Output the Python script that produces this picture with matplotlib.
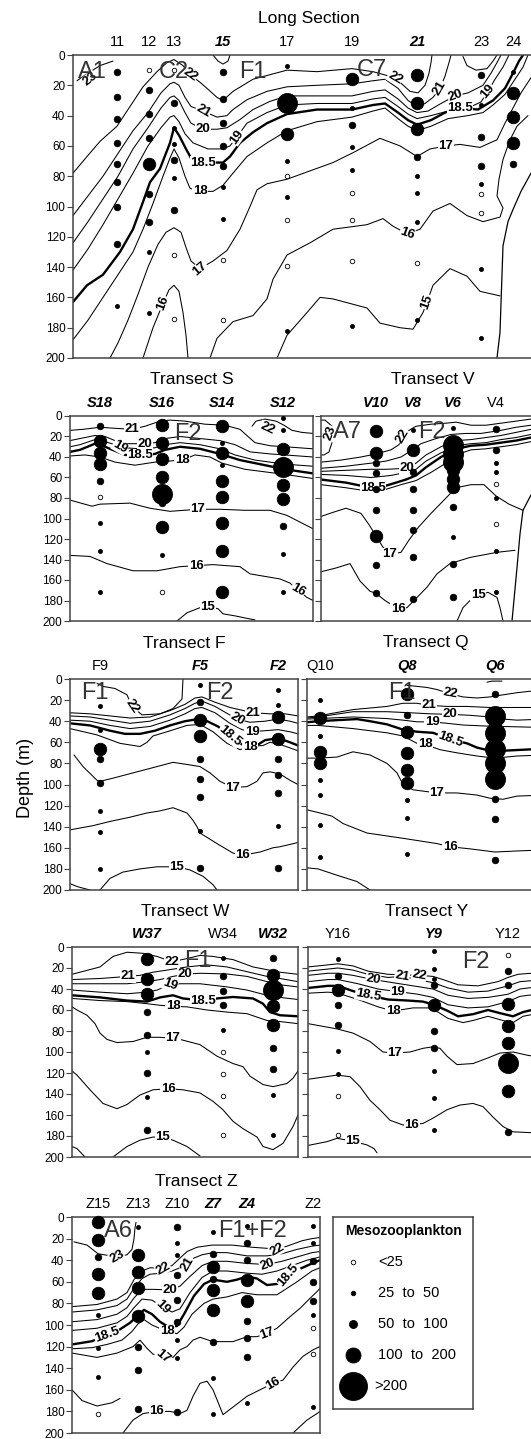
import matplotlib
matplotlib.use("Agg")
from matplotlib import pyplot as plt

plt.rcParams['font.family'] = ['Liberation Sans', 'DejaVu Sans']

W, H = 531, 1439

# size classes: 0 <25, 1 25-50, 2 50-100, 3 100-200, 4 >200
SIZE_PX = [4.5, 4.0, 6.5, 12.5, 20.0]
LEG_PX = [4.5, 4.5, 8.0, 15.0, 28.0]
LEG_LABELS = ['<25', '25  to  50', '50  to  100', '100  to  200', '>200']

# ---------------- Long section ----------------
L_NAMES = ['11', '12', '13', '15', '17', '19', '21', '23', '24']
L_BOLD = [0, 0, 0, 1, 0, 0, 1, 0, 0]
L_DIST = [44, 76, 101, 150, 214, 279, 344, 408, 440]
L_DOTS = [(0, 11, 2), (0, 28, 2), (0, 42, 2), (0, 58, 2), (0, 72, 2), (0, 84, 2), (0, 100, 2), (0, 125, 2), (0, 166, 1),
          (1, 10, 0), (1, 23, 2), (1, 39, 2), (1, 55, 2), (1, 72, 3), (1, 92, 2), (1, 110, 2), (1, 130, 1), (1, 170, 1),
          (2, 10, 0), (2, 32, 2), (2, 48, 1), (2, 59, 1), (2, 69, 2), (2, 81, 1), (2, 102, 2), (2, 132, 0), (2, 174, 0),
          (3, 11, 2), (3, 29, 2), (3, 45, 2), (3, 60, 2), (3, 73, 2), (3, 87, 1), (3, 108, 1), (3, 135, 0), (3, 175, 0),
          (4, 7, 1), (4, 32, 4), (4, 52, 3), (4, 70, 1), (4, 80, 0), (4, 94, 1), (4, 109, 0), (4, 139, 0), (4, 182, 1),
          (5, 16, 3), (5, 35, 1), (5, 46, 2), (5, 61, 1), (5, 76, 1), (5, 91, 0), (5, 109, 0), (5, 136, 0), (5, 179, 1),
          (6, 13, 3), (6, 32, 3), (6, 49, 3), (6, 67, 2), (6, 80, 1), (6, 91, 1), (6, 110, 1), (6, 137, 0), (6, 175, 1),
          (7, 13, 2), (7, 33, 1), (7, 54, 2), (7, 73, 2), (7, 85, 1), (7, 92, 0), (7, 104, 0), (7, 141, 1), (7, 187, 1),
          (8, 11, 1), (8, 25, 3), (8, 41, 3), (8, 58, 3), (8, 72, 2)]
L_ISO = [
    ('23', [(4, 17), (15, 12), (27, 7), (40, 4)]),
    ('22', [(0, 78), (14, 67), (27, 57), (44, 47), (57, 34), (70, 21), (84, 11), (94, 5), (101, 3), (110, 7), (117, 13),
            (127, 18), (134, 22), (144, 28), (150, 30), (160, 24), (180, 16), (214, 10), (244, 11), (279, 9), (300, 11),
            (322, 15), (337, 24), (345, 25), (352, 20), (356, 12), (358, 5), (359, 0)]),
    ('22', [(140, 0), (145, 4), (150, 6), (155, 4), (157, 0)]),
    ('22', [(390, 1), (394, 7), (403, 10), (414, 9), (420, 4), (424, 0)]),
    ('21', [(0, 106), (15, 93), (30, 80), (45, 65), (60, 50), (75, 38), (88, 25), (97, 19), (101, 18), (106, 20),
            (112, 28), (118, 34), (130, 37), (144, 41), (154, 40), (160, 36), (174, 29.5), (194, 24), (214, 21),
            (244, 20), (279, 19), (300, 17), (312, 16), (325, 22), (335, 30), (344, 34), (352, 32), (360, 28),
            (367, 22), (372, 14), (376, 5), (378, 0)]),
    ('20', [(0, 124), (15, 110), (30, 95), (45, 80), (60, 62), (75, 48), (88, 35), (97, 28), (101, 27), (106, 30),
            (112, 38), (118, 45), (130, 49), (144, 49), (154, 48), (167, 42.6), (180, 36), (197, 30.6), (214, 27),
            (244, 27), (279, 27), (300, 24), (312, 23), (325, 29), (335, 35), (344, 38), (355, 37), (368, 32),
            (382, 27), (395, 25), (410, 20), (418, 12), (424, 5), (428, 0)]),
    ('19', [(0, 142), (15, 128), (30, 112), (45, 95), (60, 78), (75, 60), (88, 48), (97, 41), (101, 40), (106, 44),
            (112, 52), (120, 58), (135, 62), (150, 62), (157, 60), (164, 54), (174, 45), (194, 38), (214, 33),
            (244, 32), (279, 32), (300, 29), (312, 28), (325, 34), (335, 39), (344, 42), (358, 40), (375, 37),
            (395, 35), (408, 31), (415, 24), (422, 16), (430, 8), (436, 0)]),
    ('18.5', [(0, 163), (14, 152), (30, 145), (47, 130), (60, 115), (70, 97), (77, 84), (87, 75), (97, 58), (101, 48),
              (106, 53), (113, 62), (118, 68), (130, 71), (144, 71), (150, 71), (157, 67), (167, 58), (180, 51),
              (194, 45), (214, 39), (244, 36), (279, 36), (300, 33), (312, 32), (325, 38), (335, 43), (344, 46),
              (358, 43), (372, 38), (387, 35), (405, 36), (420, 30), (432, 22), (440, 12), (446, 4), (450, 0)]),
    ('18', [(0, 188), (15, 175), (30, 160), (45, 145), (60, 130), (70, 115), (80, 98), (90, 80), (97, 68), (101, 62),
            (106, 68), (112, 80), (117, 88), (127, 90), (140, 90), (150, 86), (160, 78), (174, 67), (194, 58),
            (214, 50), (244, 44), (279, 41), (300, 37), (312, 35), (325, 42), (335, 47), (344, 50), (358, 47),
            (375, 42), (395, 40), (410, 38), (420, 33), (432, 26), (442, 16), (450, 8), (455, 0)]),
    ('17', [(37, 200), (45, 190), (55, 175), (65, 158), (75, 140), (85, 125), (93, 117), (101, 114), (108, 117),
            (113, 127), (118, 136), (127, 141), (140, 136), (154, 129), (167, 115), (177, 100), (184, 89), (194, 85),
            (214, 82), (260, 71), (280, 64.5), (307, 55), (327, 60), (344, 67), (357, 62), (374, 60), (387, 59),
            (407, 61), (417, 58), (424, 56), (432, 45), (440, 35), (448, 25), (458, 15)]),
    ('16', [(70, 200), (80, 180), (90, 164), (96, 155), (101, 152), (106, 156), (110, 170), (113, 185), (115, 200)]),
    ('16', [(137, 200), (144, 187), (160, 176), (180, 172), (194, 161), (200, 148), (214, 132), (237, 124), (260, 115),
            (294, 112), (310, 108), (320, 113), (334, 118), (347, 115), (360, 103), (377, 98), (394, 106), (410, 110),
            (427, 107), (430, 101), (424, 93), (426, 82), (430, 69), (437, 56), (444, 47), (455, 40)]),
    ('15', [(204, 200), (214, 185), (234, 170), (247, 160), (260, 161), (294, 167), (307, 177), (327, 180), (340, 181),
            (350, 170), (354, 163), (360, 152), (377, 141), (394, 146), (407, 156), (427, 159)]),
]
L_FLOOR = [(424, 200), (427, 183), (430, 126), (435, 110), (440, 102), (448, 90), (458, 78)]
L_LABELS = [('23', 17, 16, 40), ('22', 117, 13, -35), ('21', 130, 37, -30), ('20', 130, 49, 0), ('19', 164, 54, 55),
            ('18.5', 130, 71, 0), ('18', 127, 90, 0), ('17', 127, 141, 40), ('16', 90, 164, 70), ('22', 322, 15, -30),
            ('21', 367, 22, 60), ('20', 382, 27, 20), ('18.5', 387, 35, 0), ('19', 415, 24, 50), ('17', 373, 60, 0),
            ('16', 334, 118, -20), ('15', 354, 163, 70)]
L_LETTERS = [('A1', 19, 11), ('C2', 101, 11), ('F1', 180, 11), ('C7', 299, 10)]

# ---------------- Transect S ----------------
S_NAMES = ['S18', 'S16', 'S14', 'S12']
S_BOLD = [1, 1, 1, 1]
S_DIST = [30, 92, 152, 213]
S_DOTS = [(0, 10, 2), (0, 24, 3), (0, 36, 3), (0, 47, 3), (0, 63, 2), (0, 79, 0), (0, 104, 1), (0, 132, 1), (0, 172, 1),
          (1, 9, 3), (1, 26, 3), (1, 42, 3), (1, 60, 3), (1, 76, 4), (1, 85, 2), (1, 108, 3), (1, 136, 1), (1, 172, 0),
          (2, 10, 3), (2, 26, 1), (2, 36, 3), (2, 48, 1), (2, 63, 3), (2, 79, 3), (2, 104, 3), (2, 132, 3), (2, 172, 3),
          (3, 2, 1), (3, 14, 1), (3, 32, 3), (3, 50, 4), (3, 67, 3), (3, 81, 3), (3, 107, 2), (3, 135, 1), (3, 172, 1)]
S_ISO = [
    ('22', [(182, 10), (186, 5), (195, 3), (206, 5), (214, 9), (222, 14), (232, 16), (243, 17)]),
    ('21', [(0, 14), (13, 13), (30, 11), (45, 12), (62, 13), (75, 10), (90, 5), (100, 4), (115, 5), (135, 8), (155, 9),
            (170, 13), (178, 20), (185, 26), (200, 29), (215, 30), (243, 32)]),
    ('20', [(0, 24), (10, 22), (25, 19), (35, 20), (45, 24), (55, 27), (75, 27), (85, 26), (95, 22), (110, 20), (130, 22),
            (150, 24), (165, 28), (180, 35), (200, 37), (215, 38), (243, 40)]),
    ('19', [(0, 30), (10, 28), (25, 23), (35, 25), (45, 28), (55, 31), (70, 32), (85, 31), (95, 28), (110, 26), (130, 28),
            (150, 32), (165, 38), (185, 43), (215, 47), (243, 49)]),
    ('18.5', [(0, 35), (10, 33), (25, 27), (35, 30), (45, 34), (55, 38), (70, 38), (85, 37), (95, 33), (110, 30),
              (130, 32), (150, 37), (170, 43), (195, 48), (215, 52), (243, 56)]),
    ('18', [(0, 39), (15, 38), (30, 40), (45, 45), (65, 48), (85, 45), (112, 43), (125, 38), (140, 40), (152, 46),
            (175, 52), (215, 57), (243, 61)]),
    ('17', [(0, 82), (22, 88), (30, 86), (60, 85), (80, 90), (100, 93), (128, 91), (150, 91), (175, 92), (200, 92),
            (217, 97), (237, 107), (243, 110)]),
    ('16', [(0, 136), (20, 137), (37, 144), (63, 151), (87, 151), (110, 147), (126, 146), (143, 145), (170, 147),
            (180, 154), (210, 159), (220, 163), (228, 170), (237, 177), (243, 180)]),
    ('15', [(107, 200), (117, 192), (130, 187), (138, 186), (148, 188), (153, 193), (165, 195), (185, 199)]),
]
S_LABELS = [('21', 62, 13, 0), ('20', 75, 27, 0), ('19', 50, 30, -30), ('18.5', 70, 38, 0), ('18', 112, 43, 0),
            ('17', 128, 91, 0), ('16', 126, 146, 0), ('16', 228, 170, -30), ('15', 138, 186, 0), ('22', 197, 12, -25)]
S_LETTERS = [('F2', 118, 18)]

# ---------------- Transect V ----------------
V_NAMES = ['V10', 'V8', 'V6', 'V4']
V_BOLD = [1, 1, 1, 0]
V_DIST = [55, 92, 132, 175]
V_DOTS = [(0, 15, 3), (0, 36, 3), (0, 46, 2), (0, 56, 2), (0, 71, 2), (0, 92, 2), (0, 117, 3), (0, 145, 2), (0, 173, 2),
          (1, 14, 1), (1, 33, 3), (1, 55, 2), (1, 71, 2), (1, 92, 2), (1, 111, 2), (1, 138, 2), (1, 179, 2),
          (2, 12, 1), (2, 28, 4), (2, 37, 4), (2, 45, 4), (2, 53, 3), (2, 61, 3), (2, 69, 3), (2, 89, 2), (2, 118, 1),
          (2, 144, 2), (2, 177, 2),
          (3, 13, 2), (3, 33, 2), (3, 46, 1), (3, 55, 1), (3, 66, 0), (3, 80, 1), (3, 105, 0), (3, 132, 1), (3, 172, 1)]
V_ISO = [
    ('23', [(0, 4), (4, 4), (11, 10), (12, 23), (8, 35), (3, 38), (0, 38)]),
    ('22', [(0, 45), (20, 43), (40, 40), (55, 37), (70, 33), (78, 28), (82, 20), (88, 14), (95, 10), (110, 8), (125, 7),
            (135, 6), (150, 9), (165, 9), (180, 7), (195, 5), (210, 3), (224, 2)]),
    ('21', [(0, 51), (25, 49), (50, 46), (65, 44), (80, 40), (90, 34), (100, 27), (115, 22), (130, 18), (145, 17),
            (160, 17), (180, 14), (195, 11), (210, 9), (224, 7)]),
    ('20', [(0, 54), (25, 53), (50, 52), (65, 52), (86, 51), (95, 46), (105, 38), (120, 30), (135, 24), (150, 23),
            (165, 21), (180, 19), (195, 16), (210, 13), (224, 11)]),
    ('19', [(0, 57), (25, 58), (50, 60), (70, 58), (85, 55), (95, 52), (105, 44), (120, 36), (135, 29), (150, 27),
            (165, 26), (180, 23), (195, 21), (210, 18), (224, 16)]),
    ('18.5', [(0, 62), (25, 65), (40, 68), (52, 70), (65, 68), (85, 62), (95, 58), (105, 50), (120, 40), (135, 32),
              (150, 29), (165, 28), (180, 26), (195, 24), (210, 21), (224, 19)]),
    ('18', [(0, 67), (25, 70), (45, 73), (60, 73), (80, 67), (95, 63), (110, 55), (125, 46), (135, 38), (150, 33),
            (165, 32), (180, 30), (195, 28), (210, 25), (224, 22)]),
    ('17', [(0, 98), (12, 94), (25, 90), (40, 95), (48, 106), (55, 117), (62, 128), (69, 135), (80, 133), (88, 121),
            (97, 109), (110, 95), (120, 85), (130, 75), (135, 70), (150, 67), (163, 67), (175, 78), (188, 86), (202, 92)]),
    ('16', [(0, 152), (4, 151), (16, 148), (29, 144), (39, 161), (49, 171), (55, 173), (64, 180), (77, 188), (86, 187),
            (96, 177), (106, 167), (116, 154), (129, 144), (149, 138), (176, 133), (194, 131)]),
    ('15', [(136, 200), (142, 187), (149, 180), (157, 175), (167, 172), (176, 177), (179, 187), (182, 200)]),
]
V_FLOOR = [(191, 200), (196, 148), (199, 115), (202, 92), (210, 77), (224, 70)]
V_LABELS = [('22', 82, 20, 60), ('20', 86, 51, 0), ('18.5', 52, 70, 0), ('17', 69, 135, 0), ('16', 77, 188, 0),
            ('15', 157, 175, 0), ('23', 9, 17, 70)]
V_LETTERS = [('A7', 26, 16), ('F2', 111, 16)]

# ---------------- Transect F ----------------
F_NAMES = ['F9', 'F5', 'F2']
F_BOLD = [0, 1, 1]
F_DIST = [30, 130, 208]
F_DOTS = [(0, 26, 1), (0, 48, 1), (0, 66, 3), (0, 76, 2), (0, 99, 2), (0, 125, 1), (0, 145, 1), (0, 180, 1),
          (1, 6, 1), (1, 22, 2), (1, 39, 3), (1, 54, 3), (1, 76, 2), (1, 95, 2), (1, 112, 2), (1, 144, 1), (1, 179, 2),
          (2, 10, 1), (2, 25, 1), (2, 36, 3), (2, 57, 3), (2, 76, 2), (2, 91, 2), (2, 108, 2), (2, 139, 1), (2, 179, 2)]
F_ISO = [
    ('22', [(27, 4), (33, 7), (45, 9), (57, 15), (62, 26), (72, 34), (90, 33), (103, 28), (112, 19), (113, 0)]),
    ('21', [(0, 32), (20, 33), (40, 35), (60, 37), (80, 36), (100, 30), (115, 24), (125, 18), (132, 17), (145, 22),
            (160, 27), (183, 32), (200, 33), (215, 33), (228, 35)]),
    ('20', [(0, 35), (20, 36), (40, 39), (60, 42), (80, 40), (100, 34), (115, 28), (125, 23), (132, 21), (145, 26),
            (167, 38), (180, 41), (195, 40), (208, 38), (220, 40), (228, 42)]),
    ('19', [(0, 39), (20, 40), (40, 44), (60, 47), (80, 45), (100, 39), (115, 33), (125, 28), (132, 27), (145, 32),
            (160, 42), (172, 48), (182, 50), (195, 49), (208, 48), (220, 50), (228, 52)]),
    ('18.5', [(0, 42), (20, 44), (40, 49), (55, 52), (70, 52), (85, 49), (100, 44), (115, 40), (128, 38), (135, 39),
              (148, 45), (160, 54), (172, 62), (185, 64), (195, 58), (208, 56), (220, 60), (228, 63)]),
    ('18', [(0, 47), (27, 53), (50, 61), (70, 64), (77, 60), (83, 54), (97, 50), (117, 44), (130, 43), (143, 50),
            (157, 61), (170, 67), (180, 64), (193, 63), (200, 60), (210, 62), (228, 68)]),
    ('17', [(4, 72), (13, 83), (27, 96), (30, 97), (43, 94), (63, 89), (83, 84), (103, 79), (117, 81), (130, 83),
            (140, 89), (150, 97), (163, 103), (177, 102), (187, 97), (193, 89), (200, 88), (210, 90), (220, 96),
            (228, 100)]),
    ('16', [(0, 143), (23, 139), (40, 135), (60, 131), (77, 127), (90, 125), (103, 122), (117, 127), (123, 134),
            (127, 140), (130, 146), (147, 156), (163, 165), (173, 167), (190, 164), (203, 160), (210, 159), (228, 155)]),
    ('15', [(30, 200), (40, 189), (53, 183), (70, 180), (87, 178), (107, 178), (120, 181), (133, 187), (143, 195),
            (147, 200)]),
    ('15', [(0, 194), (8, 197), (20, 200)]),
]
F_LABELS = [('22', 62, 26, -55), ('21', 183, 32, 0), ('20', 167, 38, -30), ('19', 182, 50, 0), ('18.5', 160, 54, -40),
            ('18', 180, 64, 0), ('17', 163, 103, 0), ('16', 173, 167, 0), ('15', 107, 178, 0)]
F_LETTERS = [('F1', 25, 13), ('F2', 150, 13)]

# ---------------- Transect Q ----------------
Q_NAMES = ['Q10', 'Q8', 'Q6']
Q_BOLD = [0, 1, 1]
Q_DIST = [13, 100, 188]
Q_DOTS = [(0, 20, 1), (0, 37, 3), (0, 54, 1), (0, 69, 3), (0, 80, 3), (0, 96, 1), (0, 110, 1), (0, 138, 1), (0, 169, 1),
          (1, 14, 3), (1, 34, 2), (1, 50, 3), (1, 70, 3), (1, 86, 3), (1, 99, 3), (1, 115, 1), (1, 132, 1), (1, 166, 1),
          (2, 14, 2), (2, 35, 4), (2, 51, 4), (2, 66, 4), (2, 80, 4), (2, 95, 4), (2, 114, 2), (2, 133, 2), (2, 172, 2)]
Q_ISO = [
    ('22', [(180, 3), (185, 2), (195, 2)]),
    ('22', [(100, 6), (120, 8), (130, 10), (143, 14), (156, 17), (170, 18), (183, 17), (196, 15), (210, 13), (238, 10)]),
    ('21', [(0, 36), (11, 35), (46, 29), (80, 26), (96, 23), (110, 23), (122, 25), (140, 26), (160, 26), (183, 27),
            (210, 27), (238, 27)]),
    ('20', [(0, 37), (11, 36), (46, 31), (80, 31), (103, 32), (123, 33), (143, 33.5), (163, 34.4), (183, 36), (196, 38),
            (210, 39), (238, 38)]),
    ('19', [(0, 38), (11, 37.5), (46, 36), (80, 37.5), (96, 39), (110, 40.6), (125, 40.6), (140, 42), (156, 43.6),
            (176, 44.5), (196, 45), (238, 46)]),
    ('18.5', [(0, 41), (11, 40), (30, 39), (50, 38), (63, 40), (80, 43), (96, 48), (110, 50), (126, 51), (143, 57),
              (160, 61), (170, 65), (183, 68), (196, 68), (238, 66)]),
    ('18', [(0, 44), (11, 44), (46, 47), (80, 51), (96, 54), (110, 61), (118, 62), (133, 67), (150, 70), (170, 73),
            (188, 75), (210, 73), (238, 72)]),
    ('17', [(0, 75), (11, 75), (30, 74), (46, 69), (63, 72), (80, 80), (90, 89), (96, 100), (106, 105), (130, 108),
            (150, 108), (170, 110), (183, 113), (196, 114), (210, 111), (238, 110)]),
    ('16', [(0, 124), (13, 127), (25, 130), (36, 137), (60, 146), (96, 151), (130, 156), (143, 159), (163, 161),
            (188, 164), (210, 163), (238, 162)]),
    ('15', [(0, 179), (11, 180), (30, 186), (50, 192), (63, 200)]),
]
Q_LABELS = [('22', 143, 14, -10), ('21', 122, 25, 0), ('20', 143, 33, 0), ('19', 125, 41, 0), ('18.5', 143, 57, -20),
            ('18', 118, 62, 0), ('17', 130, 108, 0), ('16', 143, 159, 0)]
Q_LETTERS = [('F1', 95, 13)]

# ---------------- Transect W ----------------
W_NAMES = ['W37', 'W34', 'W32']
W_BOLD = [1, 0, 1]
W_DIST = [75, 151, 201]
W_DOTS = [(0, 11, 3), (0, 30, 3), (0, 45, 3), (0, 62, 2), (0, 84, 2), (0, 100, 1), (0, 120, 2), (0, 143, 1), (0, 174, 2),
          (1, 10, 1), (1, 28, 2), (1, 42, 2), (1, 55, 2), (1, 79, 1), (1, 100, 0), (1, 121, 0), (1, 142, 0), (1, 179, 0),
          (2, 10, 2), (2, 27, 3), (2, 41, 4), (2, 56, 3), (2, 74, 3), (2, 96, 2), (2, 116, 2), (2, 141, 1), (2, 179, 1)]
W_ISO = [
    ('22', [(0, 26), (28, 19), (41, 9), (55, 5), (71, 6), (85, 9), (100, 14), (115, 11), (128, 8), (141, 9), (161, 12),
            (181, 19), (208, 24), (226, 26)]),
    ('21', [(0, 31), (28, 30), (56, 28), (68, 27), (81, 24), (95, 22), (115, 19), (135, 17), (155, 19), (175, 23.5),
            (195, 28), (208, 30), (226, 33)]),
    ('20', [(0, 35), (28, 35), (55, 35), (75, 33), (88, 31), (101, 28), (113, 26), (128, 25), (155, 25.7), (175, 28),
            (195, 33), (208, 36), (226, 38)]),
    ('19', [(0, 41), (28, 43), (55, 44.5), (75, 43), (85, 41), (98, 36), (108, 35), (128, 35), (155, 38), (175, 41),
            (195, 46), (208, 48), (226, 50)]),
    ('18.5', [(0, 46), (28, 48), (55, 51), (75, 52), (88, 48), (101, 46), (111, 49), (131, 51), (145, 49), (161, 47.6),
              (181, 49), (191, 54), (198, 62), (208, 65), (226, 66)]),
    ('18', [(0, 49), (28, 51), (55, 52), (75, 54), (88, 55.5), (101, 56.5), (115, 57), (135, 60), (155, 62),
            (175, 63.5), (195, 70), (208, 71), (226, 73)]),
    ('17', [(0, 57), (5, 60), (15, 65), (23, 73), (28, 82), (35, 88), (45, 91), (61, 90), (75, 86), (88, 86), (101, 87),
            (108, 88), (128, 93), (145, 104), (161, 111), (171, 114), (178, 123), (191, 131), (201, 133), (215, 130),
            (221, 125), (226, 118)]),
    ('16', [(0, 118), (5, 122), (18, 136), (31, 149), (45, 154), (55, 150), (68, 141), (81, 136), (96, 135), (111, 136),
            (128, 139), (141, 147), (151, 155), (161, 166), (171, 173), (185, 181), (191, 190), (201, 193), (211, 187),
            (221, 171), (226, 160)]),
    ('15', [(41, 200), (55, 190), (68, 184), (81, 181), (91, 181), (101, 184), (115, 190), (128, 199)]),
    ('15', [(0, 190), (5, 192), (11, 198), (13, 200)]),
]
W_LABELS = [('22', 100, 14, 0), ('21', 56, 28, 0), ('20', 113, 26, 0), ('19', 98, 36, -20), ('18.5', 131, 51, 0),
            ('18', 101, 56, 0), ('17', 101, 87, 0), ('16', 96, 135, 0), ('15', 91, 181, 0)]
W_LETTERS = [('F1', 126, 13)]

# ---------------- Transect Y ----------------
Y_NAMES = ['Y16', 'Y9', 'Y12']
Y_BOLD = [0, 1, 0]
Y_DIST = [30, 126, 200]
Y_DOTS = [(0, 11, 1), (0, 28, 2), (0, 41, 3), (0, 55, 2), (0, 74, 2), (0, 99, 1), (0, 121, 1), (0, 142, 0), (0, 179, 0),
          (1, 4, 1), (1, 21, 1), (1, 30, 1), (1, 36, 2), (1, 55, 3), (1, 80, 2), (1, 96, 2), (1, 118, 1), (1, 144, 1),
          (1, 174, 1),
          (2, 8, 0), (2, 23, 2), (2, 36, 2), (2, 54, 3), (2, 75, 3), (2, 91, 3), (2, 110, 4), (2, 137, 3), (2, 176, 2)]
Y_ISO = [
    ('22', [(0, 19), (20, 17), (30, 16), (45, 18), (60, 23), (80, 26), (111, 27), (125, 28), (135, 31), (150, 36),
            (170, 37), (190, 33), (200, 29), (210, 26), (237, 24)]),
    ('21', [(0, 23), (20, 21), (30, 20), (45, 22), (60, 26), (80, 29), (94, 28), (110, 31), (125, 34), (140, 39),
            (160, 43), (180, 42), (200, 37), (212, 33), (237, 31)]),
    ('20', [(0, 27), (20, 25), (30, 25), (45, 27), (65, 31), (85, 34), (105, 37), (125, 40), (140, 46), (160, 49),
            (180, 48), (200, 45), (212, 40), (237, 37)]),
    ('19', [(0, 33), (20, 31), (30, 31), (50, 35), (70, 40), (90, 42.5), (110, 45), (125, 48), (140, 55), (160, 58),
            (180, 57), (200, 52), (212, 47), (237, 44)]),
    ('18.5', [(0, 39), (20, 37), (30, 37), (45, 42), (60, 46), (80, 50), (100, 51), (115, 52), (126, 55), (140, 61),
              (150, 66), (165, 64), (180, 60), (192, 63), (205, 66), (215, 62), (237, 57)]),
    ('18', [(0, 44), (20, 43), (30, 44), (50, 50), (70, 57), (85, 61), (105, 58), (120, 58), (130, 62), (140, 68),
            (155, 72), (165, 70), (180, 66), (195, 70), (205, 72), (215, 66), (237, 62)]),
    ('17', [(0, 73), (29, 78), (45, 82), (62, 90), (75, 100), (87, 101), (102, 100), (115, 96.5), (125, 95), (132, 96.5),
            (139, 104), (149, 112), (165, 111), (179, 106), (192, 101), (205, 100), (219, 103), (237, 106)]),
    ('16', [(0, 126), (29, 122), (42, 123.5), (52, 133), (62, 146), (72, 155), (82, 165), (95, 169.5), (104, 169.5),
            (115, 168), (125, 163), (139, 155), (152, 150.5), (165, 149), (175, 152), (185, 162), (195, 171),
            (205, 176), (237, 177.5)]),
    ('15', [(0, 189), (19, 185.4), (29, 182.2), (45, 185), (59, 188.5), (66, 192), (69, 196)]),
]
Y_LABELS = [('20', 65, 31, -10), ('21', 94, 28, -10), ('22', 111, 27, -10), ('19', 90, 42.5, 0), ('18.5', 60, 46, -10),
            ('18', 85, 61, 0), ('17', 87, 101, 0), ('16', 104, 169.5, 0), ('15', 45, 185, 0)]
Y_LETTERS = [('F2', 168, 14)]

# ---------------- Transect Z ----------------
Z_NAMES = ['Z15', 'Z13', 'Z10', 'Z7', 'Z4', 'Z2']
Z_BOLD = [0, 0, 0, 1, 1, 0]
Z_DIST = [26, 66, 105, 141, 175, 241]
Z_DOTS = [(0, 5, 3), (0, 21, 3), (0, 37, 2), (0, 53, 3), (0, 70, 3), (0, 91, 1), (0, 121, 1), (0, 148, 1), (0, 182, 0),
          (1, 9, 1), (1, 35, 3), (1, 51, 3), (1, 66, 3), (1, 92, 3), (1, 120, 2), (1, 142, 2), (1, 178, 2),
          (2, 9, 2), (2, 24, 1), (2, 35, 1), (2, 54, 2), (2, 77, 2), (2, 97, 2), (2, 114, 1), (2, 131, 1), (2, 181, 2),
          (3, 14, 1), (3, 34, 2), (3, 46, 3), (3, 57, 2), (3, 68, 3), (3, 86, 3), (3, 116, 2), (3, 149, 1), (3, 182, 1),
          (4, 8, 1), (4, 24, 2), (4, 40, 2), (4, 58, 3), (4, 78, 3), (4, 96, 2), (4, 112, 2), (4, 130, 2), (4, 172, 1),
          (5, 8, 1), (5, 24, 1), (5, 41, 2), (5, 60, 2), (5, 78, 2), (5, 91, 1), (5, 103, 0), (5, 127, 0), (5, 176, 1)]
Z_ISO = [
    ('23', [(2, 23), (15, 26), (26, 34), (45, 37), (55, 35), (60, 30), (62, 20), (63, 10), (64, 5)]),
    ('22', [(0, 83), (25, 81), (45, 76), (55, 70), (62, 58), (70, 50), (78, 47), (91, 47.5), (100, 45), (108, 38),
            (115, 32), (125, 28), (140, 26), (160, 26), (180, 28), (195, 29), (205, 30), (215, 27), (230, 22),
            (240, 20), (248, 19)]),
    ('21', [(0, 88), (25, 86), (45, 82), (55, 76), (62, 66), (70, 57), (78, 53), (90, 52), (100, 50), (116, 44),
            (122, 38), (130, 35), (141, 33), (155, 33), (175, 36), (195, 36), (210, 34), (225, 30), (240, 27), (248, 26)]),
    ('20', [(0, 97), (25, 95), (45, 90), (55, 84), (62, 75), (70, 67), (82, 67), (98, 67.6), (108, 64), (118, 55),
            (130, 45), (141, 41), (155, 41), (175, 43), (195, 44), (210, 41), (225, 37), (240, 33), (248, 32)]),
    ('19', [(0, 105), (25, 103), (45, 98), (55, 92), (62, 84), (70, 76), (80, 77), (90, 83), (100, 88), (108, 85),
            (118, 70), (130, 56), (141, 50), (155, 50), (175, 52), (190, 53), (205, 50), (220, 45), (235, 40), (248, 37)]),
    ('18.5', [(0, 118), (20, 115), (35, 109), (48, 104), (58, 98), (66, 91), (72, 86), (80, 90), (88, 97), (95, 101),
              (105, 101), (112, 90), (122, 73), (132, 62), (141, 58), (155, 60), (165, 58), (175, 55), (185, 57),
              (195, 63), (205, 62), (216, 54), (228, 48), (240, 43), (248, 40)]),
    ('18', [(0, 122), (20, 121), (35, 118), (50, 114), (60, 106), (66, 99), (72, 95), (80, 100), (95, 106), (105, 108),
            (112, 102), (120, 90), (132, 80), (141, 76), (155, 74), (170, 70), (185, 72), (205, 72), (225, 60),
            (240, 50), (248, 47)]),
    ('17', [(0, 126), (25, 130), (45, 126), (61, 120), (68, 114), (75, 121.6), (81, 127), (91, 129.3), (101, 130),
            (108, 123), (115, 120), (121, 114), (128, 111.4), (141, 115.4), (161, 115.4), (175, 110.8), (185, 110.8),
            (195, 107.7), (205, 103), (218, 92.3), (228, 84.6), (238, 75.3), (245, 69.1), (248, 66)]),
    ('16', [(51, 200), (61, 188), (71, 182), (85, 180), (98, 180), (108, 182), (115, 179), (121, 166), (128, 154),
            (135, 152), (141, 160), (148, 176), (151, 183), (161, 176), (175, 166), (188, 160), (201, 154), (211, 151),
            (221, 139), (231, 129), (241, 123), (248, 120)]),
    ('16', [(0, 160), (10, 170), (25, 175), (40, 172), (48, 168)]),
    ('15', [(221, 200), (235, 188), (245, 182), (248, 180)]),
]
Z_LABELS = [('23', 45, 37, 30), ('22', 91, 47.5, 30), ('21', 116, 44, 60), ('20', 98, 67.6, 0), ('19', 90, 83, -45),
            ('18.5', 35, 109, 20), ('18', 95, 106, 0), ('17', 91, 129, -40), ('17', 195, 108, 20), ('16', 85, 180, 0),
            ('16', 201, 154, 30), ('22', 205, 30, 30), ('20', 195, 44, 20), ('18.5', 216, 54, 50)]
Z_LETTERS = [('A6', 46, 13), ('F1+F2', 180, 13)]


fig = plt.figure(figsize=(W / 100, H / 100), dpi=100)


def panel(box, names, bold, dist, dots, isos, labels, letters, title, ylab=True, floor=None):
    l, t, r, b = box
    ax = fig.add_axes([l / W, 1 - b / H, (r - l) / W, (b - t) / H])
    ax.set_xlim(0, r - l)
    ax.set_ylim(200, 0)
    ax.set_xticks([])
    ax.set_yticks(range(0, 201, 20))
    ax.tick_params(axis='y', direction='out', length=4, width=0.8, labelsize=8.5, pad=1.5,
                   labelleft=ylab, color='#444444')
    for sp in ax.spines.values():
        sp.set_color('#444444')
        sp.set_linewidth(1.1)
    for temp, pts in isos:
        xs, ds = zip(*pts)
        ax.plot(xs, ds, color='black', lw=1.7 if temp == '18.5' else 0.75, zorder=2, solid_capstyle='round')
    if floor:
        xs, ds = zip(*floor)
        ax.plot(xs, ds, color='black', lw=0.9, zorder=2)
    for txt, x, d, rot in labels:
        ax.text(x, d, txt, fontsize=9.5, fontweight='bold', ha='center', va='center', rotation=rot, zorder=3,
                bbox=dict(fc='white', ec='none', pad=0.2))
    for si, d, c in dots:
        px = SIZE_PX[c] * 0.72
        ax.scatter(dist[si], d, s=px ** 2, facecolor='white' if c == 0 else 'black', edgecolor='black',
                   linewidths=0.6, zorder=4, clip_on=False)
    for txt, x, d in letters:
        ax.text(x, d, txt, fontsize=17, color='#333333', ha='center', va='center', zorder=5)
    for nm, bb, x in zip(names, bold, dist):
        ax.annotate(nm, xy=(x, 1), xycoords=('data', 'axes fraction'), xytext=(0, 9.5),
                    textcoords='offset points', ha='center', va='center', fontsize=10.5,
                    fontweight='bold' if bb else 'normal', fontstyle='italic' if bb else 'normal')
    tx = (l + min(r, 545)) / 2
    fig.text(tx / W, 1 - (t - 36) / H, title, ha='center', va='center', fontsize=12.5)
    return ax


panel((73, 55, 545, 358), L_NAMES, L_BOLD, L_DIST, L_DOTS, L_ISO, L_LABELS, L_LETTERS, 'Long Section', floor=L_FLOOR)
panel((70, 416, 313, 621), S_NAMES, S_BOLD, S_DIST, S_DOTS, S_ISO, S_LABELS, S_LETTERS, 'Transect S')
panel((321, 416, 545, 621), V_NAMES, V_BOLD, V_DIST, V_DOTS, V_ISO, V_LABELS, V_LETTERS, 'Transect V', ylab=False,
      floor=V_FLOOR)
panel((70, 679, 298, 890), F_NAMES, F_BOLD, F_DIST, F_DOTS, F_ISO, F_LABELS, F_LETTERS, 'Transect F')
panel((307, 679, 545, 890), Q_NAMES, Q_BOLD, Q_DIST, Q_DOTS, Q_ISO, Q_LABELS, Q_LETTERS, 'Transect Q', ylab=False)
panel((72, 947, 298, 1157), W_NAMES, W_BOLD, W_DIST, W_DOTS, W_ISO, W_LABELS, W_LETTERS, 'Transect W')
panel((308, 947, 545, 1157), Y_NAMES, Y_BOLD, Y_DIST, Y_DOTS, Y_ISO, Y_LABELS, Y_LETTERS, 'Transect Y', ylab=False)
panel((72, 1217, 320, 1433), Z_NAMES, Z_BOLD, Z_DIST, Z_DOTS, Z_ISO, Z_LABELS, Z_LETTERS, 'Transect Z')

fig.text(25 / W, 1 - 778 / H, 'Depth (m)', rotation=90, ha='center', va='center', fontsize=13)

# legend box
lg = fig.add_axes([333 / W, 1 - 1409 / H, 140 / W, 192 / H])
lg.set_xlim(333, 473)
lg.set_ylim(1409, 1217)
lg.set_xticks([])
lg.set_yticks([])
for sp in lg.spines.values():
    sp.set_color('#444444')
    sp.set_linewidth(1.1)
lg.text(403, 1231, 'Mesozooplankton', fontsize=10, fontweight='bold', ha='center', va='center')
for i, (lab, px) in enumerate(zip(LEG_LABELS, LEG_PX)):
    yy = 1262 + i * 31
    lg.scatter(353, yy, s=(px * 0.72) ** 2, facecolor='white' if i == 0 else 'black', edgecolor='black',
               linewidths=0.6)
    lg.text(374 if i == 4 else 378, yy, lab, fontsize=10.5, ha='left', va='center')

fig.savefig('out.png', dpi=100)
